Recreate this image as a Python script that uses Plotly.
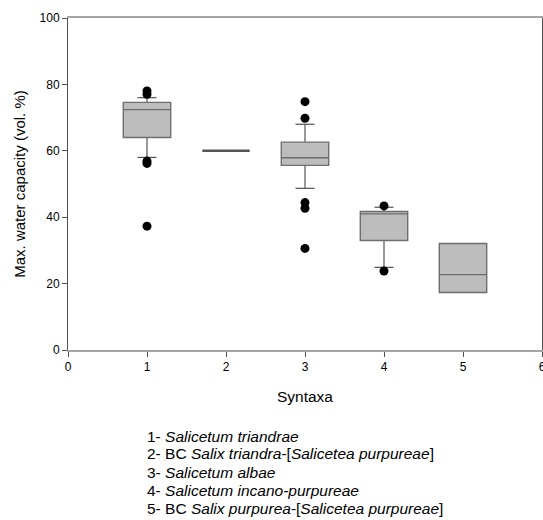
import plotly.graph_objects as go

# Box statistics per syntaxon (max. water capacity, vol. %)
syntaxa = [1, 2, 3, 4, 5]
q1 = [64.0, 60.0, 55.6, 33.0, 17.3]
median = [72.4, 60.0, 57.9, 41.0, 22.7]
q3 = [74.6, 60.0, 62.6, 41.7, 32.1]
lower_whisker = [58.0, 60.0, 48.7, 24.9, 17.3]
upper_whisker = [76.0, 60.0, 68.0, 43.0, 32.1]

# Outlying observations
outlier_x = [1, 1, 1, 1, 1, 3, 3, 3, 3, 3, 4, 4]
outlier_y = [78.0, 77.0, 56.9, 56.2, 37.3, 74.8, 69.8, 44.4, 42.7, 30.6, 43.4, 23.8]

legend_lines = [
    "1- <i>Salicetum triandrae</i>",
    "2- BC <i>Salix triandra</i>-[<i>Salicetea purpureae</i>]",
    "3- <i>Salicetum albae</i>",
    "4- <i>Salicetum incano-purpureae</i>",
    "5- BC <i>Salix purpurea</i>-[<i>Salicetea purpureae</i>]",
]

FONT = "Liberation Sans, Arial, sans-serif"
BOX_FILL = "#bdbdbd"
BOX_LINE = "#6e6e6e"
BOX_WIDTH = 0.6
CAP_HALF = 0.12

W, H = 543, 520
M_L, M_R, M_T, M_B = 68, 1, 18, 170
PLOT_H = H - M_T - M_B

fig = go.Figure()

for x, a, m, b, lo, hi in zip(syntaxa, q1, median, q3, lower_whisker, upper_whisker):
    flat = a == b  # degenerate box: all values equal
    fig.add_trace(go.Box(
        x=[x], q1=[a], median=[m], q3=[b],
        lowerfence=[lo], upperfence=[hi],
        width=BOX_WIDTH, fillcolor=BOX_FILL,
        line=dict(color="#555555" if flat else BOX_LINE, width=2.5 if flat else 1.4),
        whiskerwidth=0, boxpoints=False, showlegend=False,
        hoverinfo="skip",
    ))

# whisker caps
cap_x, cap_y = [], []
for x, lo, hi, a, b in zip(syntaxa, lower_whisker, upper_whisker, q1, q3):
    if lo < a:
        cap_x += [x - CAP_HALF, x + CAP_HALF, None]
        cap_y += [lo, lo, None]
    if hi > b:
        cap_x += [x - CAP_HALF, x + CAP_HALF, None]
        cap_y += [hi, hi, None]
fig.add_trace(go.Scatter(
    x=cap_x, y=cap_y, mode="lines",
    line=dict(color="#505050", width=1.2),
    showlegend=False, hoverinfo="skip",
))

fig.add_trace(go.Scatter(
    x=outlier_x, y=outlier_y, mode="markers",
    marker=dict(color="black", size=9),
    showlegend=False,
))

# key to the syntaxa numbers, one line per annotation
key_left_px = 145
key_first_px = 436
key_step_px = 18
for i, line in enumerate(legend_lines):
    yc = key_first_px + i * key_step_px
    fig.add_annotation(
        text=line,
        xref="paper", yref="paper",
        x=(key_left_px - M_L) / (W - M_L - M_R),
        y=(H - M_B - yc) / PLOT_H,
        xanchor="left", yanchor="middle", align="left", showarrow=False,
        font=dict(family=FONT, size=15.5, color="black"),
    )

fig.update_layout(
    width=W, height=H,
    margin=dict(l=M_L, r=M_R, t=M_T, b=M_B, autoexpand=False),
    plot_bgcolor="white", paper_bgcolor="white",
    font=dict(family=FONT, size=12, color="black"),
    xaxis=dict(
        range=[0, 6], tickmode="array", tickvals=[0, 1, 2, 3, 4, 5, 6],
        showgrid=False, zeroline=False, automargin=False,
        showline=True, linecolor="#a6a6a6", linewidth=2, mirror=True,
        ticks="outside", ticklen=5, tickcolor="#505050", tickwidth=1,
        ticklabeloverflow="allow",
        title=dict(text="Syntaxa", font=dict(size=15.5), standoff=18),
    ),
    yaxis=dict(
        range=[0, 100], tickmode="array", tickvals=[0, 20, 40, 60, 80, 100],
        showgrid=False, zeroline=False, automargin=False,
        showline=True, linecolor="#505050", linewidth=1, mirror=True,
        ticks="outside", ticklen=5, tickcolor="#505050", tickwidth=1,
        title=dict(text="Max. water capacity (vol. %)", font=dict(size=15), standoff=10),
    ),
)

fig.write_html("out.html")
